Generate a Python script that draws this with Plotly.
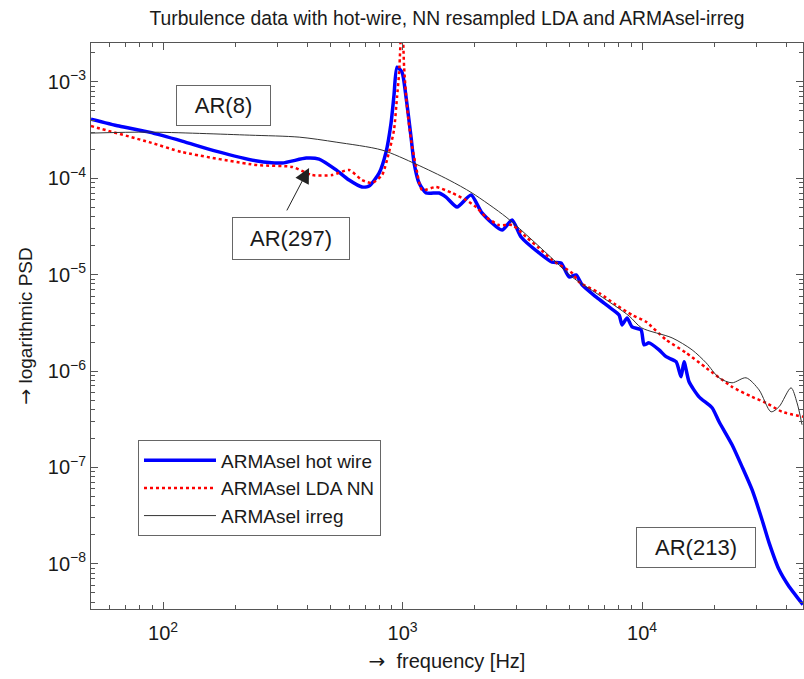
import math
import plotly.graph_objects as go

# ---- data ----
hot_f = [50, 65.5, 87.4, 120, 166, 247, 314, 396, 448, 528, 598, 677, 725, 798, 853, 895, 921, 948, 995, 1034,
         1085, 1117, 1172, 1254, 1420, 1519, 1689, 1932, 2147, 2603, 2866, 3125, 3715, 4210, 4589, 4958, 5302, 5618,
         6427, 7282, 8017, 8251, 8657, 9084, 9904, 10194, 10696, 11776, 12596, 13868, 14549, 14976, 15713, 17297,
         19604, 20970, 23758, 26153, 28795, 31696, 33904, 37328, 41094, 45237, 47000]
hot_psd = [4.11e-4, 3.48e-4, 3.01e-4, 2.43e-4, 1.91e-4, 1.51e-4, 1.44e-4, 1.62e-4, 1.58e-4, 1.22e-4,
           9.58e-5, 8.11e-5, 8.30e-5, 1.13e-4, 1.87e-4, 3.73e-4, 7.28e-4, 1.42e-3, 1.26e-3, 6.94e-4,
           2.67e-4, 1.44e-4, 8.92e-5, 7.03e-5, 7.03e-5, 6.38e-5, 5.03e-5, 6.70e-5, 4.36e-5, 2.90e-5,
           3.69e-5, 2.46e-5, 1.68e-5, 1.35e-5, 1.32e-5, 9.46e-6, 9.93e-6, 7.82e-6, 5.87e-6, 4.62e-6,
           3.82e-6, 3.01e-6, 3.56e-6, 2.87e-6, 2.67e-6, 1.87e-6, 1.96e-6, 1.66e-6, 1.41e-6, 1.25e-6,
           8.72e-7, 1.25e-6, 7.73e-7, 5.40e-7, 4.16e-7, 2.98e-7, 1.72e-7, 1.02e-7, 5.87e-8, 2.87e-8,
           1.66e-8, 8.71e-9, 5.81e-9, 4.26e-9, 3.78e-9]

lda_f = [50, 87.4, 120, 247, 346, 419, 508, 598, 677, 746, 821, 878, 921, 948, 967, 995, 1015, 1044, 1085, 1139,
         1206, 1380, 1609, 1842, 2027, 2232, 2529, 2866, 3280, 3715, 4210, 5103, 5457, 6613, 7788, 9084, 10393,
         12596, 15263, 18506, 23758, 28795, 32941, 38426, 47000]
lda_psd = [3.48e-4, 2.37e-4, 1.87e-4, 1.37e-4, 1.31e-4, 1.08e-4, 1.08e-4, 1.22e-4, 9.58e-5, 8.92e-5,
           1.08e-4, 1.87e-4, 3.16e-4, 6.94e-4, 1.23e-3, 5.0e-3, 1.42e-3, 5.47e-4, 2.49e-4, 1.31e-4,
           7.55e-5, 8.11e-5, 7.03e-5, 5.94e-5, 5.03e-5, 3.96e-5, 3.27e-5, 3.27e-5, 2.46e-5, 1.89e-5,
           1.42e-5, 1.04e-5, 8.40e-6, 6.46e-6, 4.85e-6, 3.82e-6, 3.24e-6, 2.11e-6, 1.55e-6, 1.08e-6,
           6.86e-7, 5.40e-7, 4.68e-7, 3.78e-7, 3.35e-7]

irr_f = [50, 87.4, 229, 370, 528, 821, 1139, 1564, 1951, 2705, 3473, 4374, 5103, 6613, 8826, 9950, 13344,
         16177, 18506, 20970, 23758, 27186, 30800, 34560, 37328, 41900, 44380, 46570]
irr_psd = [2.94e-4, 3.01e-4, 2.80e-4, 2.67e-4, 2.37e-4, 1.96e-4, 1.40e-4, 9.58e-5, 7.03e-5, 3.96e-5,
           2.29e-5, 1.35e-5, 9.46e-6, 6.15e-6, 3.73e-6, 2.81e-6, 2.21e-6, 1.66e-6, 1.22e-6, 8.51e-7,
           7.55e-7, 8.51e-7, 6.38e-7, 3.78e-7, 4.26e-7, 6.70e-7, 4.68e-7, 2.77e-7]

series_names = ["ARMAsel hot wire", "ARMAsel LDA NN", "ARMAsel irreg"]
box_labels = ["AR(8)", "AR(297)", "AR(213)"]
title_text = "Turbulence data with hot\u2010wire, NN resampled LDA and ARMAsel\u2010irreg"

x_tick_exps = [2, 3, 4]
y_tick_exps = [-8, -7, -6, -5, -4, -3]
x_range = [50, 47000]
y_range = [3.4e-9, 2.53e-3]
arrow_target = (407, 1.28e-4)

FONT = "Liberation Sans, Arial, sans-serif"
ARROW = '<span style="font-family:DejaVu Sans">\u2192</span>'
TXT = "#1a1a1a"
FRAME = "#555555"

fig = go.Figure()
fig.add_trace(go.Scatter(x=hot_f, y=hot_psd, mode="lines", name=series_names[0],
                         line=dict(color="#0000ff", width=3.5, shape="spline", smoothing=0.6)))
fig.add_trace(go.Scatter(x=lda_f, y=lda_psd, mode="lines", name=series_names[1],
                         line=dict(color="#ff0000", width=2.5, dash="dot", shape="spline", smoothing=0.6)))
fig.add_trace(go.Scatter(x=irr_f, y=irr_psd, mode="lines", name=series_names[2],
                         line=dict(color="#333333", width=1, shape="spline", smoothing=0.8)))

x_minor = [m * 10 ** e for e in range(1, 5) for m in range(2, 10)]
y_minor = [m * 10.0 ** e for e in range(-9, -2) for m in range(2, 10)]

def sup_label(e):
    return "10<sup>" + str(e).replace("-", "\u2212") + "</sup>"

axis_common = dict(type="log", showgrid=False, zeroline=False, showline=True, linecolor=FRAME, linewidth=1,
                   mirror="ticks", ticks="inside", ticklen=7, tickwidth=1, tickcolor=FRAME,
                   tickmode="array", automargin=False,
                   tickfont=dict(family=FONT, size=20, color=TXT))

fig.update_xaxes(**axis_common, range=[math.log10(x_range[0]), math.log10(x_range[1])],
                 tickvals=[10.0 ** e for e in x_tick_exps], ticktext=[sup_label(e) for e in x_tick_exps],
                 ticklabelstandoff=6,
                 minor=dict(tickvals=x_minor, ticks="inside", ticklen=4, tickcolor=FRAME),
                 title=dict(text=ARROW + "&nbsp; frequency [Hz]", font=dict(family=FONT, size=20, color=TXT),
                            standoff=10))
fig.update_yaxes(**axis_common, range=[math.log10(y_range[0]), math.log10(y_range[1])],
                 tickvals=[10.0 ** e for e in y_tick_exps], ticktext=[sup_label(e) for e in y_tick_exps],
                 minor=dict(tickvals=y_minor, ticks="inside", ticklen=4, tickcolor=FRAME),
                 title=dict(text=ARROW + " logarithmic PSD", font=dict(family=FONT, size=19, color=TXT), standoff=10))

def pbox(text, cx, cy, w, h):
    return dict(text=text, xref="paper", yref="paper", x=cx, y=cy, xanchor="center", yanchor="middle",
                showarrow=False, width=w, height=h, bordercolor="#666666", borderwidth=1, borderpad=0,
                bgcolor="white", font=dict(family=FONT, size=22, color=TXT))

annotations = [
    dict(text="", x=math.log10(arrow_target[0]), y=math.log10(arrow_target[1]), xref="x", yref="y",
         showarrow=True, ax=-23, ay=44, arrowhead=2, arrowsize=3, arrowwidth=1, arrowcolor="#222222"),
    pbox(box_labels[0], 0.1861, 0.8896, 93, 39),
    pbox(box_labels[1], 0.2809, 0.6546, 116, 41),
    pbox(box_labels[2], 0.8497, 0.1087, 118, 39),
]

fig.update_layout(
    width=804, height=679, autosize=False,
    margin=dict(l=91, r=1, t=43, b=70),
    paper_bgcolor="white", plot_bgcolor="white",
    font=dict(family=FONT, color=TXT),
    title=dict(text=title_text, x=0.5, xref="paper", xanchor="center", y=1 - 18 / 679, yref="container",
               yanchor="middle", font=dict(family=FONT, size=19.3, color=TXT)),
    legend=dict(x=0.066, y=0.298, xanchor="left", yanchor="top", bordercolor="#666666", borderwidth=1,
                bgcolor="white", font=dict(family=FONT, size=19, color=TXT), itemwidth=72,
                tracegroupgap=0),
    annotations=annotations,
)

# remove the default 8 px page margin so the 804x679 figure fills the window exactly
fig.write_html("out.html", config={"displayModeBar": False},
               post_script="document.body.style.margin='0';document.body.style.overflow='hidden';")
